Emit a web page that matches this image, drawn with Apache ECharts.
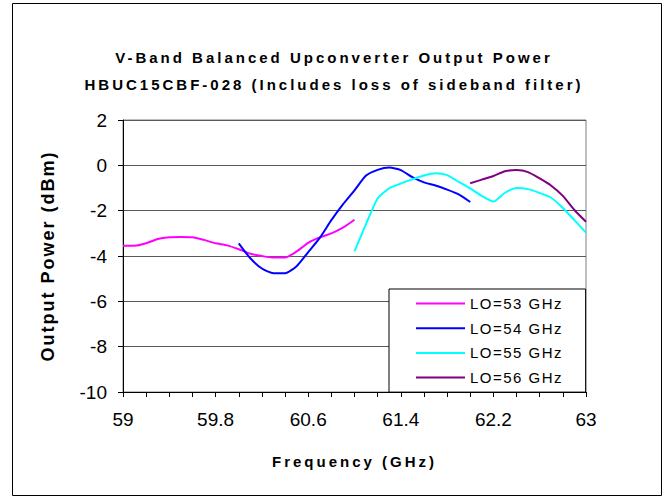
<!DOCTYPE html>
<html>
<head>
<meta charset="utf-8">
<script src="https://cdn.jsdelivr.net/npm/echarts@6/dist/echarts.min.js"></script>
<style>
html,body{margin:0;padding:0;background:#fff;}
#chart{width:668px;height:498px;}
</style>
</head>
<body>
<div id="chart"></div>
<script>
// ---- data ----
const titleLines = ['V-Band Balanced Upconverter Output Power', 'HBUC15CBF-028 (Includes loss of sideband filter)'];
const xAxisName = 'Frequency (GHz)';
const yAxisName = 'Output Power (dBm)';
const seriesNames = ['LO=53 GHz', 'LO=54 GHz', 'LO=55 GHz', 'LO=56 GHz'];
const seriesColors = ['#FF00FF', '#0000FF', '#00FFFF', '#800080'];
const xTickLabels = ['59', '59.8', '60.6', '61.4', '62.2', '63'];
const yTickLabels = ['-10', '-8', '-6', '-4', '-2', '0', '2'];

const freq53 = [59.0,59.1,59.2,59.3,59.4,59.5,59.6,59.7,59.8,59.9,60.0,60.1,60.2,60.3,60.4,60.5,60.6,60.7,60.8,60.9,61.0];
const pow53  = [-3.55,-3.55,-3.44,-3.25,-3.17,-3.16,-3.17,-3.29,-3.44,-3.53,-3.7,-3.9,-4.0,-4.07,-4.07,-3.8,-3.42,-3.18,-3.0,-2.75,-2.4];

const freq54 = [60.0,60.1,60.2,60.3,60.4,60.5,60.6,60.7,60.8,60.9,61.0,61.1,61.2,61.3,61.4,61.5,61.6,61.7,61.8,61.9,62.0];
const pow54  = [-3.44,-4.1,-4.55,-4.76,-4.76,-4.45,-3.83,-3.2,-2.42,-1.72,-1.1,-0.45,-0.2,-0.1,-0.21,-0.52,-0.75,-0.89,-1.07,-1.28,-1.62];

const freq55 = [61.0,61.1,61.2,61.3,61.4,61.5,61.6,61.7,61.8,61.9,62.0,62.1,62.2,62.3,62.4,62.5,62.6,62.7,62.8,62.9,63.0];
const pow55  = [-3.8,-2.58,-1.46,-1.01,-0.8,-0.62,-0.45,-0.35,-0.43,-0.73,-1.02,-1.35,-1.6,-1.21,-1.0,-1.05,-1.22,-1.43,-1.88,-2.42,-2.97];

const freq56 = [62.0,62.1,62.2,62.3,62.4,62.5,62.6,62.7,62.8,62.9,63.0];
const pow56  = [-0.79,-0.63,-0.47,-0.26,-0.21,-0.3,-0.58,-0.9,-1.35,-1.97,-2.49];

const freqs = [freq53, freq54, freq55, freq56];
const pows = [pow53, pow54, pow55, pow56];

// ---- chart ----
const FONT = "'Liberation Sans', Arial, sans-serif";
const xMin = parseFloat(xTickLabels[0]);
const xMax = parseFloat(xTickLabels[xTickLabels.length - 1]);
const xMajor = parseFloat(xTickLabels[1]) - xMin;
const yVals = yTickLabels.map(Number);
const yMin = Math.min(...yVals), yMax = Math.max(...yVals);

const chart = echarts.init(document.getElementById('chart'), null, {renderer: 'svg'});

const series = seriesNames.map((name, i) => ({
  name: name,
  type: 'line',
  data: freqs[i].map((f, j) => [f, pows[i][j]]),
  symbol: 'none',
  smooth: 0.2,
  lineStyle: {color: seriesColors[i], width: 2},
  itemStyle: {color: seriesColors[i]}
}));

const option = {
  animation: false,
  backgroundColor: '#ffffff',
  textStyle: {fontFamily: FONT, color: '#000'},
  title: {
    text: titleLines.join('\n'),
    left: 'center',
    top: 44,
    padding: 0,
    textStyle: {fontFamily: FONT, fontSize: 15, fontWeight: 'bold', color: '#000', lineHeight: 27}
  },
  graphic: [{
    type: 'rect',
    shape: {x: 12.5, y: 3.5, width: 649, height: 492},
    style: {fill: 'none', stroke: '#000', lineWidth: 1},
    silent: true,
    z: -1
  }],
  grid: {
    left: 123, right: 82, top: 120, bottom: 106,
    show: true, borderColor: '#808080', borderWidth: 1, backgroundColor: 'transparent'
  },
  legend: {
    data: seriesNames,
    orient: 'vertical',
    left: 389,
    top: 289,
    padding: [7, 36, 7, 27],
    icon: 'rect',
    itemWidth: 49,
    itemHeight: 2,
    itemGap: 9.7,
    backgroundColor: '#fff',
    borderColor: '#000',
    borderWidth: 1,
    borderRadius: 0,
    textStyle: {fontFamily: FONT, fontSize: 15, color: '#000'}
  },
  xAxis: {
    type: 'value',
    min: xMin,
    max: xMax,
    interval: 0.2,
    name: xAxisName,
    nameLocation: 'middle',
    nameGap: 62,
    nameTextStyle: {fontFamily: FONT, fontSize: 15, fontWeight: 'bold', color: '#000'},
    axisLine: {show: true, onZero: false, lineStyle: {color: '#000', width: 1}},
    axisTick: {show: true, inside: false, length: 5, lineStyle: {color: '#000'}},
    splitLine: {show: false},
    axisLabel: {
      fontFamily: FONT, fontSize: 19, color: '#000', margin: 18,
      formatter: function (v) {
        const k = (v - xMin) / xMajor;
        const r = Math.round(k);
        if (Math.abs(k - r) < 1e-6 && r >= 0 && r < xTickLabels.length) return xTickLabels[r];
        return '';
      }
    }
  },
  yAxis: {
    type: 'value',
    min: yMin,
    max: yMax,
    interval: 2,
    name: yAxisName,
    nameLocation: 'middle',
    nameRotate: 90,
    nameGap: 66,
    nameTextStyle: {fontFamily: FONT, fontSize: 18, fontWeight: 'bold', color: '#000'},
    axisLine: {show: true, onZero: false, lineStyle: {color: '#000', width: 1}},
    axisTick: {show: true, inside: false, length: 5, lineStyle: {color: '#000'}},
    splitLine: {show: true, lineStyle: {color: '#595959', width: 1}},
    axisLabel: {fontFamily: FONT, fontSize: 19, color: '#000', margin: 16}
  },
  series: series
};

chart.setOption(option);

// letter spacing like the original rendering
const spacing = {};
titleLines.forEach(t => spacing[t] = '3');
spacing[xAxisName] = '3';
spacing[yAxisName] = '2';
seriesNames.forEach(n => spacing[n] = '1.5');
function applySpacing() {
  document.querySelectorAll('#chart text').forEach(t => {
    const s = spacing[t.textContent];
    if (s) t.setAttribute('letter-spacing', s);
  });
}
applySpacing();
chart.on('finished', applySpacing);
</script>
</body>
</html>
